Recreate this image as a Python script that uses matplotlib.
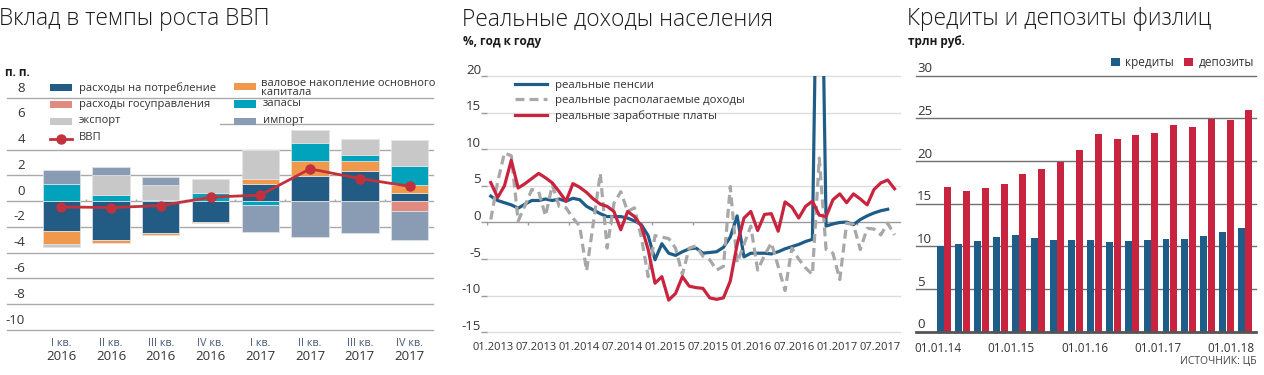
import numpy as np
import matplotlib
matplotlib.use('Agg')
import matplotlib.pyplot as plt
import matplotlib.font_manager as fm
import matplotlib.transforms as mtrans
from matplotlib.patches import Rectangle
from matplotlib.lines import Line2D

# ---------------- data: left panel (contributions to GDP growth, p.p.)
quarters = ['I кв.', 'II кв.', 'III кв.', 'IV кв.', 'I кв.', 'II кв.', 'III кв.', 'IV кв.']
years = ['2016', '2016', '2016', '2016', '2017', '2017', '2017', '2017']
consumption = [-2.35, -3.05, -2.45, -1.6, 1.3, 1.95, 2.35, 0.65]
government = [0.0, 0.0, 0.0, 0.0, 0.0, 0.0, 0.0, -0.8]
capital = [-1.0, -0.2, -0.2, -0.1, 0.4, 1.15, 0.75, 0.6]
inventories = [1.3, 0.45, 0.1, 0.6, -0.3, 1.4, 0.45, 1.5]
export = [-0.2, 1.55, 1.15, 1.1, 2.3, 1.05, 1.3, 2.0]
imports = [1.1, 0.65, 0.65, 0.0, -2.1, -2.8, -2.5, -2.2]
gdp = [-0.45, -0.5, -0.35, 0.3, 0.47, 2.5, 1.75, 1.15]
left_names = ['расходы на потребление', 'расходы госуправления',
              'валовое накопление основного\nкапитала', 'запасы', 'экспорт', 'импорт']

# ---------------- data: middle panel (real incomes, % y/y, monthly from 01.2013)
pensions = [3.6, 3.0, 2.7, 2.4, 1.95, 2.5, 3.0, 3.0, 3.2, 3.0,
            3.2, 2.9, 3.3, 3.1, 2.2, 1.7, 1.2, 0.8, 0.8, 0.8,
            0.6, 0.2, -0.3, -1.8, -5.1, -2.9, -4.2, -4.5, -4.0, -3.6,
            -3.5, -4.2, -4.1, -4.0, -3.4, -2.0, 0.9, -4.7, -4.2, -4.2,
            -4.2, -4.3, -4.0, -3.6, -3.3, -3.0, -2.6, -2.3, 60.0, -0.5,
            -0.2, 0.0, 0.05, -0.3, 0.4, 0.9, 1.3, 1.6, 1.8]
disposable = [0.4, 5.5, 9.5, 9.1, 0.2, 2.3, 4.5, 4.2, 0.9, 5.1,
              2.2, 2.0, 0.6, -0.5, -6.6, 0.0, 6.7, -3.5, 2.6, 4.2,
              1.5, 2.0, -2.0, -7.4, -1.8, -2.0, -2.2, -3.5, -7.1, -3.5,
              -3.2, -4.6, -5.1, -6.5, -6.0, 4.9, -5.5, -3.0, -0.5, -6.5,
              -4.5, -2.8, -6.0, -9.3, -3.5, -5.0, -6.2, -7.1, 8.8, -3.7,
              -4.2, -7.8, -0.1, -0.3, -3.7, -0.8, -0.9, -1.7, -0.1, -1.7]
wages = [5.45, 3.4, 5.0, 8.5, 4.7, 5.3, 6.0, 6.7, 6.1, 5.4,
         4.2, 2.9, 5.3, 4.8, 4.1, 3.2, 2.5, 2.2, 1.5, -1.0,
         1.5, 0.8, -0.5, -3.7, -8.3, -7.4, -10.6, -9.7, -7.4, -8.7,
         -8.9, -9.0, -10.3, -10.5, -10.3, -8.0, -3.0, 0.6, 1.5, -1.1,
         1.1, 1.2, -1.2, 2.8, 2.1, 0.6, 2.2, 2.9, 1.0, 0.8,
         3.1, 3.9, 2.7, 3.9, 3.2, 2.4, 4.5, 5.4, 5.8, 4.6]
month_labels = ['01.2013', '07.2013', '01.2014', '07.2014', '01.2015',
                '07.2015', '01.2016', '07.2016', '01.2017', '07.2017']
mid_names = ['реальные пенсии', 'реальные располагаемые доходы', 'реальные заработные платы']

# ---------------- data: right panel (loans and deposits, trln rub)
dates = ['01.01.14', '01.04.14', '01.07.14', '01.10.14', '01.01.15', '01.04.15',
         '01.07.15', '01.10.15', '01.01.16', '01.04.16', '01.07.16', '01.10.16',
         '01.01.17', '01.04.17', '01.07.17', '01.10.17', '01.01.18']
credits = [10.0, 10.27, 10.67, 11.14, 11.37, 10.98, 10.75, 10.78, 10.7,
           10.55, 10.59, 10.75, 10.82, 10.9, 11.22, 11.69, 12.2]
deposits = [16.96, 16.53, 16.84, 17.27, 18.53, 19.08, 19.9, 21.24, 23.2,
            22.57, 23.08, 23.31, 24.2, 23.98, 24.92, 24.8, 26.0]

# ---------------- style
W, H = 1264, 375
avail = {f.name for f in fm.fontManager.ttflist}
FONT = 'Open Sans' if 'Open Sans' in avail else 'DejaVu Sans'
plt.rcParams['font.family'] = [FONT, 'DejaVu Sans']


def _is_light(w):
    if isinstance(w, (int, float)):
        return w <= 300
    return str(w).lower() in ('light', 'ultralight', 'extra light', 'extralight', 'thin')


def find_light_font():
    for nm in ['Open Sans Light', 'Open Sans', 'Noto Sans Light', 'Noto Sans', 'Roboto Light', 'Roboto']:
        cands = [f for f in fm.fontManager.ttflist
                 if f.name == nm and f.style == 'normal' and f.stretch == 'normal'
                 and 'ondensed' not in f.fname and 'arrow' not in f.fname.lower()
                 and 'emi' not in f.fname.split('/')[-1]]
        for f in cands:
            if nm.endswith('Light') or _is_light(f.weight):
                return f.fname
    return None


light_path = find_light_font()


def title_props(size):
    if light_path:
        return fm.FontProperties(fname=light_path, size=size)
    return fm.FontProperties(family=FONT, size=size)


TXT = '#333333'
C_CONS, C_GOV, C_CAP, C_INV, C_EXP, C_IMP = '#225b84', '#e08a80', '#f0994c', '#00a3bb', '#c8c8c8', '#8a9cb4'
C_GDP = '#c2323c'
C_BLUE, C_GRAY, C_RED = '#1f5d89', '#a8a8a8', '#c8243f'


def fx(px):
    return px / W


def fy(py):
    return 1 - py / H


fig = plt.figure(figsize=(W / 100, H / 100), dpi=100)

TSIZE = 16.4
for xpx, txt in [(-1, 'Вклад в темпы роста ВВП'), (462, 'Реальные доходы населения'),
                 (907, 'Кредиты и депозиты физлиц')]:
    fig.text(fx(xpx), fy(19), txt, fontproperties=title_props(TSIZE), color='#1a1a1a', va='center', ha='left')
sub_kw = dict(fontsize=8.5, fontweight='bold', color='#1a1a1a', va='center', ha='left')
fig.text(fx(5), fy(72), 'п. п.', **sub_kw)
fig.text(fx(463), fy(42), '%, год к году', **sub_kw)
fig.text(fx(908), fy(42), 'трлн руб.', **sub_kw)
fig.text(fx(1256), fy(362), 'ИСТОЧНИК: ЦБ', fontsize=7.5, color='#444444', ha='right', va='center')

# ================= LEFT =================
axL = fig.add_axes([fx(7), fy(330), (433 - 7) / W, (330 - 98) / H])
n = len(quarters)
xL = np.arange(n)
comps = [consumption, government, capital, inventories, export, imports]
ccols = [C_CONS, C_GOV, C_CAP, C_INV, C_EXP, C_IMP]
pos_base = np.zeros(n)
neg_base = np.zeros(n)
for vals, col in zip(comps, ccols):
    v = np.asarray(vals, float)
    p = np.where(v > 0, v, 0.0)
    q = np.where(v < 0, v, 0.0)
    axL.bar(xL, p, bottom=pos_base, width=0.75, color=col, edgecolor='#e4e4e4', linewidth=0.5, zorder=2)
    axL.bar(xL, q, bottom=neg_base, width=0.75, color=col, edgecolor='#e4e4e4', linewidth=0.5, zorder=2)
    pos_base += p
    neg_base += q
axL.plot(xL, gdp, color=C_GDP, lw=2, marker='o', ms=6.5, zorder=4)
axL.set_xlim(-1.09, n - 0.53)
axL.set_ylim(-10, 8)
ticksL = np.arange(-10, 9, 2)
for t in ticksL:
    axL.axhline(t, color='#a9a9a9', lw=1, zorder=1, clip_on=False, xmin=0.5 if t == 6 else 0)
axL.vlines(xL[:-1] + 0.5, 0, 0.18, color='#a9a9a9', lw=1, zorder=1)
for s in axL.spines.values():
    s.set_visible(False)
axL.set_xticks([])
axL.set_yticks([])
trL = mtrans.offset_copy(mtrans.blended_transform_factory(fig.transFigure, axL.transData), fig=fig, y=10, units='dots')
for t in ticksL:
    axL.text(fx(25), t, f'{t:g}', transform=trL, ha='right', va='center', fontsize=9.5, color=TXT)
trQ = mtrans.blended_transform_factory(axL.transData, fig.transFigure)
for i in range(n):
    axL.text(xL[i], fy(344), quarters[i], transform=trQ, ha='center', va='center', fontsize=7.8, color='#4a5a78')
    axL.text(xL[i], fy(356), years[i], transform=trQ, ha='center', va='center', fontsize=9.5, color=TXT)

# left legend (two columns)
leg_rows = [(50, 87.7, left_names[0], C_CONS), (50, 104.3, left_names[1], C_GOV), (50, 121, left_names[4], C_EXP),
            (234, 86.7, left_names[2], C_CAP), (234, 104, left_names[3], C_INV), (234, 121, left_names[5], C_IMP)]
for x0, y0, lab, col in leg_rows:
    fig.add_artist(Rectangle((fx(x0), fy(y0 + 3.5)), 22 / W, 7 / H, transform=fig.transFigure,
                             facecolor=col, edgecolor='none'))
    if '\n' in lab:
        fig.text(fx(x0 + 27), fy(y0 + 1.5), lab, fontsize=8.0, color=TXT, ha='left', va='center', linespacing=0.72)
    else:
        fig.text(fx(x0 + 29), fy(y0), lab, fontsize=8.0, color=TXT, ha='left', va='center')
fig.add_artist(Line2D([fx(50), fx(72)], [fy(139), fy(139)], transform=fig.transFigure, color=C_GDP, lw=2))
fig.add_artist(Line2D([fx(61)], [fy(139)], transform=fig.transFigure, color=C_GDP, marker='o', ms=6.5, lw=0))
fig.text(fx(79), fy(138), 'ВВП', fontsize=8.0, color=TXT, ha='left', va='center')

# ================= MIDDLE =================
axM = fig.add_axes([fx(487), fy(332.3), (900 - 487) / W, (332.3 - 76) / H])
axM.set_xlim(-0.55, 59.8)
axM.set_ylim(-15, 20)
ticksM = np.arange(-15, 21, 5)
for t in ticksM:
    axM.axhline(t, color='#9a9a9a' if t == 0 else '#dddddd', lw=1, zorder=1, clip_on=False)
axM.vlines(np.arange(0, 60, 6) - 0.5, -0.35, 0, color='#9a9a9a', lw=1, zorder=1)
axM.plot(np.arange(len(pensions)), pensions, color=C_BLUE, lw=2.3, zorder=3, label=mid_names[0])
axM.plot(np.arange(len(disposable)), disposable, color=C_GRAY, lw=2.3, ls=(0, (2.8, 1.6)), zorder=3,
         label=mid_names[1])
axM.plot(np.arange(len(wages)), wages, color=C_RED, lw=2.3, zorder=4, label=mid_names[2])
for s in axM.spines.values():
    s.set_visible(False)
axM.set_xticks([])
axM.set_yticks(ticksM)
axM.tick_params(axis='y', length=4, width=1, color='#9a9a9a', labelleft=False, pad=0)
trM = mtrans.offset_copy(mtrans.blended_transform_factory(fig.transFigure, axM.transData), fig=fig, y=6, units='dots')
for t in ticksM:
    axM.text(fx(481), t, f'{t:g}', transform=trM, ha='right', va='center', fontsize=9.5, color=TXT)
trX = mtrans.blended_transform_factory(axM.transData, fig.transFigure)
lab_pos = np.linspace(0.34, 56.9, len(month_labels))
for p_, lab in zip(lab_pos, month_labels):
    axM.text(p_, fy(348), lab, transform=trX, ha='center', va='center', fontsize=8, color=TXT)
axM.legend(loc='upper left', bbox_to_anchor=(fx(515), fy(80)), bbox_transform=fig.transFigure,
           frameon=False, fontsize=8.2, handlelength=2.8, handletextpad=0.7, labelspacing=0.36,
           borderpad=0, borderaxespad=0, labelcolor=TXT)

# ================= RIGHT =================
axR = fig.add_axes([fx(916), fy(331.7), (1256 - 916) / W, (331.7 - 75.7) / H])
xR = np.arange(len(credits))
axR.bar(xR - 0.2, credits, width=0.37, color=C_BLUE, zorder=2, label='кредиты')
axR.bar(xR + 0.2, deposits, width=0.37, color=C_RED, zorder=2, label='депозиты')
axR.set_xlim(-1.48, 16.58)
axR.set_ylim(0, 30)
ticksR = np.arange(0, 31, 5)
for t in ticksR:
    axR.axhline(t, color='#555555' if t == 0 else '#707070', lw=2 if t == 0 else 1, zorder=3 if t == 0 else 1,
                clip_on=False)
for s in axR.spines.values():
    s.set_visible(False)
axR.set_xticks([])
axR.set_yticks([])
trR = mtrans.offset_copy(mtrans.blended_transform_factory(fig.transFigure, axR.transData), fig=fig, y=7, units='dots')
for t in ticksR:
    axR.text(fx(917), t, f'{t:g}', transform=trR, ha='left', va='center', fontsize=9.5, color=TXT)
trRX = mtrans.blended_transform_factory(axR.transData, fig.transFigure)
shown = dates[::4]
rpos = np.linspace(-0.31, 15.25, len(shown))
for p_, lab in zip(rpos, shown):
    axR.text(p_, fy(349), lab, transform=trRX, ha='center', va='center', fontsize=8.5, color=TXT)
axR.legend(loc='upper right', bbox_to_anchor=(fx(1254), fy(56)), bbox_transform=fig.transFigure, ncol=2,
           frameon=False, fontsize=8.5, handlelength=0.75, handleheight=0.75, handletextpad=0.45,
           columnspacing=0.9, borderpad=0, borderaxespad=0, labelcolor=TXT)

fig.savefig('out.png', dpi=100)
